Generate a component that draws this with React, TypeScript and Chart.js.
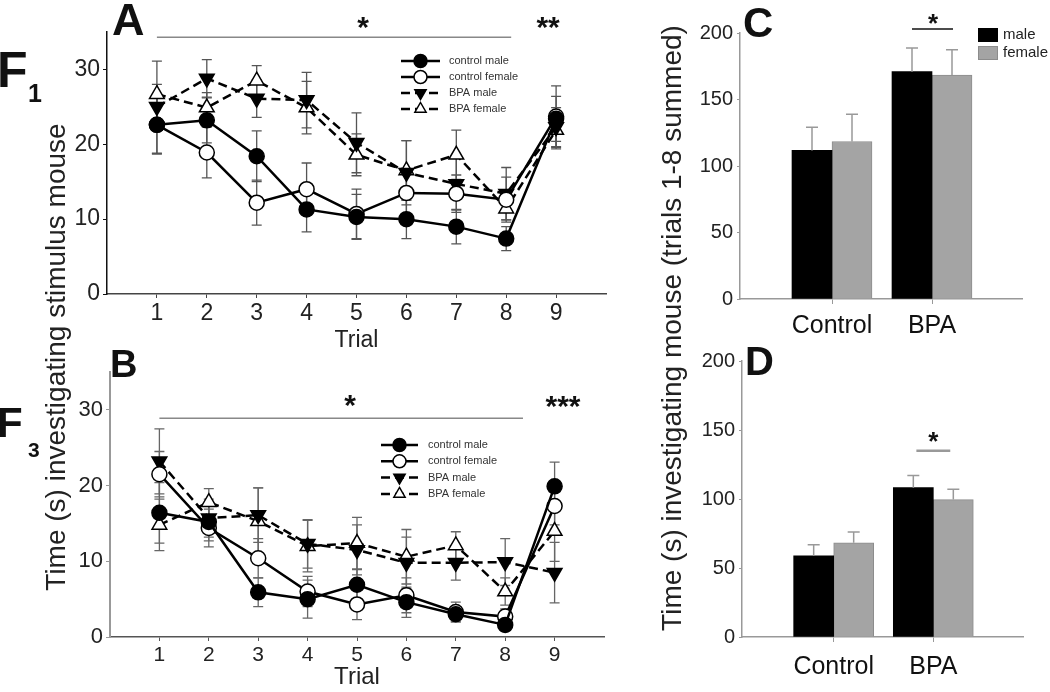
import React, { useEffect, useRef } from 'react';
import { Chart, registerables } from 'chart.js';

Chart.register(...registerables);

const FONT = '"Liberation Sans", Arial, sans-serif';

// ---------------- data ----------------
const trials = [1, 2, 3, 4, 5, 6, 7, 8, 9];
const seriesNames = ['control male', 'control female', 'BPA male', 'BPA female'];
const lineYTicks = [0, 10, 20, 30];

// Panel A (F1)
const f1ControlMale = [22.6, 23.2, 18.4, 11.3, 10.3, 10.0, 9.0, 7.4, 23.4];
const f1ControlMaleErr = [3.8, 3.0, 3.4, 3.0, 3.0, 2.6, 2.3, 1.6, 3.0];
const f1ControlFemale = [22.6, 18.9, 12.2, 14.0, 10.7, 13.5, 13.4, 12.6, 23.7];
const f1ControlFemaleErr = [3.9, 3.4, 3.0, 3.5, 3.3, 3.0, 2.5, 3.0, 4.1];
const f1BpaMale = [25.0, 28.8, 26.1, 25.9, 20.2, 16.2, 14.7, 13.4, 22.3];
const f1BpaMaleErr = [3.0, 2.5, 2.5, 3.7, 4.0, 4.3, 3.5, 3.5, 2.6];
const f1BpaFemale = [26.7, 24.9, 28.5, 24.9, 18.6, 16.5, 18.6, 11.4, 21.9];
const f1BpaFemaleErr = [4.4, 2.0, 2.0, 3.5, 2.8, 4.0, 3.3, 1.5, 2.5];

// Panel B (F3)
const f3ControlMale = [16.4, 15.2, 5.9, 5.0, 6.9, 4.6, 3.0, 1.6, 19.9];
const f3ControlMaleErr = [4.0, 2.5, 1.9, 2.5, 2.0, 2.0, 1.0, 0.8, 3.2];
const f3ControlFemale = [21.5, 14.4, 10.4, 6.0, 4.3, 5.5, 3.3, 2.7, 17.3];
const f3ControlFemaleErr = [3.0, 2.5, 2.6, 2.0, 2.0, 2.3, 1.3, 1.0, 2.5];
const f3BpaMale = [23.2, 15.7, 16.1, 12.3, 11.5, 9.8, 9.8, 9.9, 8.5];
const f3BpaMaleErr = [4.3, 2.5, 3.6, 3.2, 3.3, 3.4, 2.3, 3.1, 4.0];
const f3BpaFemale = [14.8, 17.8, 15.3, 12.0, 12.4, 10.6, 12.1, 6.0, 14.0];
const f3BpaFemaleErr = [3.4, 1.8, 4.4, 3.4, 3.4, 3.6, 1.8, 1.8, 4.0];

// Panels C and D (trials 1-8 summed)
const groups = ['Control', 'BPA'];
const groupPos = [1, 2];
const sexes = ['male', 'female'];
const barYTicks = [0, 50, 100, 150, 200];
const cMale = [111.7, 170.9];
const cMaleErr = [17.5, 17.8];
const cFemale = [118.4, 168.4];
const cFemaleErr = [20.6, 19.1];
const dMale = [58.8, 108.2];
const dMaleErr = [8.0, 8.8];
const dFemale = [68.3, 99.6];
const dFemaleErr = [7.7, 7.4];

// ---------------- styles ----------------
const seriesStyles = [
  { pointStyle: 'circle', radius: 7.5, fill: '#000', dash: [], rot: 0 },
  { pointStyle: 'circle', radius: 7.5, fill: '#fff', dash: [], rot: 0 },
  { pointStyle: 'triangle', radius: 8.5, fill: '#000', dash: [9, 5], rot: 180 },
  { pointStyle: 'triangle', radius: 8.5, fill: '#fff', dash: [9, 5], rot: 0 },
];

function drawMarker(ctx: CanvasRenderingContext2D, style: string, x: number, y: number, r: number, rot: number, fill: string, stroke: string, lw: number) {
  ctx.save();
  ctx.translate(x, y);
  ctx.rotate((rot * Math.PI) / 180);
  ctx.beginPath();
  if (style === 'circle') {
    ctx.arc(0, 0, r, 0, Math.PI * 2);
  } else {
    ctx.moveTo(0, -r);
    ctx.lineTo(r * 0.866, r * 0.5);
    ctx.lineTo(-r * 0.866, r * 0.5);
    ctx.closePath();
  }
  ctx.fillStyle = fill;
  ctx.fill();
  ctx.lineWidth = lw;
  ctx.strokeStyle = stroke;
  ctx.stroke();
  ctx.restore();
}

function makeErrorPlugin(color: string, width: number, cap: number, upOnly: boolean) {
  const draw = (chart: any) => {
    const ctx = chart.ctx;
    const ys = chart.scales.y;
    ctx.save();
    ctx.strokeStyle = color;
    ctx.lineWidth = width;
    chart.data.datasets.forEach((ds: any, i: number) => {
      const errs = ds.errors;
      if (!errs) return;
      const meta = chart.getDatasetMeta(i);
      meta.data.forEach((el: any, j: number) => {
        const raw = ds.data[j];
        const v = typeof raw === 'number' ? raw : raw.y;
        const e = errs[j];
        const x = el.x;
        const top = ys.getPixelForValue(v + e);
        const bot = upOnly ? el.y : ys.getPixelForValue(v - e);
        ctx.beginPath();
        ctx.moveTo(x, top);
        ctx.lineTo(x, bot);
        ctx.moveTo(x - cap, top);
        ctx.lineTo(x + cap, top);
        if (!upOnly) {
          ctx.moveTo(x - cap, bot);
          ctx.lineTo(x + cap, bot);
        }
        ctx.stroke();
      });
    });
    ctx.restore();
  };
  return upOnly
    ? { id: 'errorBars', afterDatasetsDraw: draw }
    : { id: 'errorBars', beforeDatasetsDraw: draw };
}

function makeSeriesLegend(x: number, y: number, dy: number, len: number, gap: number, r: number) {
  return {
    id: 'seriesLegend',
    afterDraw(chart: any) {
      const ctx = chart.ctx;
      chart.data.datasets.forEach((ds: any, i: number) => {
        const yy = y + i * dy;
        ctx.save();
        ctx.strokeStyle = ds.borderColor;
        ctx.lineWidth = ds.borderWidth;
        ctx.setLineDash(ds.borderDash || []);
        ctx.beginPath();
        ctx.moveTo(x, yy);
        ctx.lineTo(x + len, yy);
        ctx.stroke();
        ctx.setLineDash([]);
        drawMarker(ctx, ds.pointStyle, x + len / 2, yy, r, ds.pointRotation || 0, ds.pointBackgroundColor, ds.pointBorderColor, 1.5);
        ctx.fillStyle = '#333';
        ctx.font = `11px ${FONT}`;
        ctx.textBaseline = 'middle';
        ctx.textAlign = 'left';
        ctx.fillText(ds.label, x + len + gap, yy);
        ctx.restore();
      });
    },
  };
}

function makeBoxLegend(x: number, y: number, w: number, h: number, dy: number, gap: number) {
  return {
    id: 'boxLegend',
    afterDraw(chart: any) {
      const ctx = chart.ctx;
      chart.data.datasets.forEach((ds: any, i: number) => {
        const yy = y + i * dy;
        ctx.save();
        ctx.fillStyle = ds.backgroundColor;
        ctx.fillRect(x, yy, w, h);
        ctx.strokeStyle = ds.borderColor;
        ctx.lineWidth = 1;
        ctx.strokeRect(x + 0.5, yy + 0.5, w - 1, h - 1);
        ctx.fillStyle = '#222';
        ctx.font = `15px ${FONT}`;
        ctx.textBaseline = 'middle';
        ctx.textAlign = 'left';
        ctx.fillText(ds.label, x + w + gap, yy + h / 2);
        ctx.restore();
      });
    },
  };
}

type SigLine = { x1: number; x2: number; y: number; color: string; width: number };
type SigMark = { x: number; y: number; text: string; size: number };

function makeSigPlugin(lines: SigLine[], marks: SigMark[]) {
  return {
    id: 'sig',
    afterDraw(chart: any) {
      const { ctx } = chart;
      const xs = chart.scales.x;
      const ys = chart.scales.y;
      ctx.save();
      lines.forEach((l) => {
        ctx.strokeStyle = l.color;
        ctx.lineWidth = l.width;
        ctx.beginPath();
        ctx.moveTo(xs.getPixelForValue(l.x1), ys.getPixelForValue(l.y));
        ctx.lineTo(xs.getPixelForValue(l.x2), ys.getPixelForValue(l.y));
        ctx.stroke();
      });
      marks.forEach((m) => {
        ctx.fillStyle = '#111';
        ctx.font = `bold ${m.size}px ${FONT}`;
        ctx.textAlign = 'center';
        ctx.textBaseline = 'alphabetic';
        ctx.fillText(m.text, xs.getPixelForValue(m.x), ys.getPixelForValue(m.y) + m.size * 0.57);
      });
      ctx.restore();
    },
  };
}

function lineConfig(p: any) {
  const datasets = p.series.map((vals: number[], i: number) => {
    const st = seriesStyles[i];
    return {
      label: seriesNames[i],
      data: trials.map((t, j) => ({ x: t, y: vals[j] })),
      errors: p.errs[i],
      borderColor: '#000',
      borderWidth: 2.5,
      borderDash: st.dash,
      pointStyle: st.pointStyle,
      pointRadius: st.radius,
      pointRotation: st.rot,
      pointBackgroundColor: st.fill,
      pointBorderColor: '#000',
      pointBorderWidth: 1.5,
      tension: 0,
      fill: false,
    };
  });
  return {
    type: 'line',
    data: { datasets },
    options: {
      animation: false,
      responsive: false,
      maintainAspectRatio: false,
      devicePixelRatio: 1,
      events: [],
      layout: { padding: { left: 0, top: p.top, right: p.right, bottom: 0 } },
      plugins: { legend: { display: false }, tooltip: { enabled: false } },
      scales: {
        x: {
          type: 'linear',
          min: 0,
          max: 10,
          offset: false,
          afterBuildTicks: (s: any) => {
            s.ticks = trials.map((v) => ({ value: v }));
          },
          afterFit: (s: any) => {
            s.height = p.xHeight;
          },
          ticks: { font: { family: FONT, size: p.xTickSize }, color: '#222', padding: 2, maxRotation: 0, autoSkip: false },
          grid: { drawOnChartArea: false, drawTicks: true, tickLength: 4, color: p.xAxisColor },
          border: { display: true, color: p.xAxisColor, width: 1.5 },
          title: { display: true, text: 'Trial', font: { family: FONT, size: p.titleSize }, color: '#222', padding: { top: 0, bottom: 0 } },
        },
        y: {
          min: 0,
          max: 35,
          afterBuildTicks: (s: any) => {
            s.ticks = lineYTicks.map((v) => ({ value: v }));
          },
          afterFit: (s: any) => {
            s.width = p.yWidth;
          },
          ticks: { font: { family: FONT, size: p.yTickSize }, color: '#222', padding: 3 },
          grid: { drawOnChartArea: false, drawTicks: true, tickLength: 4, color: p.yAxisColor },
          border: { display: true, color: p.yAxisColor, width: p.yAxisWidth },
        },
      },
    },
    plugins: [
      makeErrorPlugin(p.errColor, 1.3, 5, false),
      makeSeriesLegend(p.legend.x, p.legend.y, p.legend.dy, p.legend.len, p.legend.gap, 6.5),
      makeSigPlugin(p.sigLines, p.sigMarks),
    ],
  };
}

function barConfig(p: any) {
  const datasets = [
    {
      label: sexes[0],
      data: groupPos.map((x, i) => ({ x, y: p.male[i] })),
      errors: p.maleErr,
      backgroundColor: '#000',
      borderColor: '#000',
      borderWidth: 0,
      barThickness: 40,
    },
    {
      label: sexes[1],
      data: groupPos.map((x, i) => ({ x, y: p.female[i] })),
      errors: p.femaleErr,
      backgroundColor: '#a4a4a4',
      borderColor: '#8c8c8c',
      borderWidth: 1,
      barThickness: 40,
    },
  ];
  const plugins: any[] = [makeErrorPlugin('#999', 1.5, 6, true), makeSigPlugin(p.sigLines, p.sigMarks)];
  if (p.legend) plugins.push(makeBoxLegend(p.legend.x, p.legend.y, 20, 14, 18, 5));
  return {
    type: 'bar',
    data: { datasets },
    options: {
      animation: false,
      responsive: false,
      maintainAspectRatio: false,
      devicePixelRatio: 1,
      events: [],
      layout: { padding: { left: 0, top: p.top, right: p.right, bottom: 0 } },
      plugins: { legend: { display: false }, tooltip: { enabled: false } },
      scales: {
        x: {
          type: 'linear',
          min: 0.08,
          max: 2.9,
          offset: false,
          afterBuildTicks: (s: any) => {
            s.ticks = groupPos.map((v) => ({ value: v }));
          },
          afterFit: (s: any) => {
            s.height = p.xHeight;
          },
          ticks: {
            font: { family: FONT, size: 25 },
            color: '#111',
            padding: p.xPad,
            maxRotation: 0,
            autoSkip: false,
            callback: (v: number) => {
              const k = groupPos.indexOf(v);
              return k >= 0 ? groups[k] : '';
            },
          },
          grid: { drawOnChartArea: false, drawTicks: true, tickLength: 5, color: '#999', offset: false },
          border: { display: true, color: '#999', width: 1.5 },
        },
        y: {
          min: 0,
          max: 200,
          afterBuildTicks: (s: any) => {
            s.ticks = barYTicks.map((v) => ({ value: v }));
          },
          afterFit: (s: any) => {
            s.width = p.yWidth;
          },
          ticks: { font: { family: FONT, size: 20 }, color: '#222', padding: 4 },
          grid: { drawOnChartArea: false, drawTicks: true, tickLength: 3, color: '#999' },
          border: { display: true, color: '#999', width: 1.5 },
        },
      },
    },
    plugins,
  };
}

function ChartBox({ left, top, width, height, build }: any) {
  const ref = useRef<HTMLCanvasElement>(null);
  useEffect(() => {
    const chart = new Chart(ref.current as HTMLCanvasElement, build());
    return () => chart.destroy();
  }, []);
  return (
    <canvas
      ref={ref}
      width={width}
      height={height}
      style={{ position: 'absolute', left, top, width, height }}
    />
  );
}

const buildA = () =>
  lineConfig({
    series: [f1ControlMale, f1ControlFemale, f1BpaMale, f1BpaFemale],
    errs: [f1ControlMaleErr, f1ControlFemaleErr, f1BpaMaleErr, f1BpaFemaleErr],
    top: 32,
    right: 14,
    xHeight: 60,
    yWidth: 107,
    xTickSize: 23,
    yTickSize: 23,
    titleSize: 23,
    xAxisColor: '#444',
    yAxisColor: '#111',
    yAxisWidth: 1.5,
    errColor: '#555',
    legend: { x: 401, y: 61, dy: 16, len: 39, gap: 9 },
    sigLines: [{ x1: 1, x2: 8.1, y: 34.3, color: '#888', width: 1.5 }],
    sigMarks: [
      { x: 5.13, y: 36.6, text: '*', size: 30 },
      { x: 8.84, y: 36.6, text: '**', size: 30 },
    ],
  });

const buildB = () =>
  lineConfig({
    series: [f3ControlMale, f3ControlFemale, f3BpaMale, f3BpaFemale],
    errs: [f3ControlMaleErr, f3ControlFemaleErr, f3BpaMaleErr, f3BpaFemaleErr],
    top: 27,
    right: 16,
    xHeight: 55,
    yWidth: 110,
    xTickSize: 21,
    yTickSize: 22,
    titleSize: 24,
    xAxisColor: '#555',
    yAxisColor: '#999',
    yAxisWidth: 2,
    errColor: '#666',
    legend: { x: 381, y: 100, dy: 16.3, len: 37, gap: 10 },
    sigLines: [{ x1: 1, x2: 8.36, y: 28.9, color: '#888', width: 1.5 }],
    sigMarks: [
      { x: 4.86, y: 31.6, text: '*', size: 30 },
      { x: 9.17, y: 31.5, text: '***', size: 30 },
    ],
  });

const buildC = () =>
  barConfig({
    male: cMale,
    maleErr: cMaleErr,
    female: cFemale,
    femaleErr: cFemaleErr,
    top: 33,
    right: 28,
    xHeight: 46,
    yWidth: 100,
    xPad: 7,
    legend: { x: 338, y: 28 },
    sigLines: [{ x1: 1.8, x2: 2.21, y: 203, color: '#111', width: 1.5 }],
    sigMarks: [{ x: 2.01, y: 212, text: '*', size: 26 }],
  });

const buildD = () =>
  barConfig({
    male: dMale,
    maleErr: dMaleErr,
    female: dFemale,
    femaleErr: dFemaleErr,
    top: 13,
    right: 27,
    xHeight: 55,
    yWidth: 102,
    xPad: 10,
    legend: null,
    sigLines: [{ x1: 1.83, x2: 2.17, y: 135, color: '#999', width: 2.5 }],
    sigMarks: [{ x: 2.0, y: 146, text: '*', size: 26 }],
  });

export default function App() {
  const txt = { fontFamily: FONT, fill: '#111' } as any;
  return (
    <div style={{ position: 'absolute', left: 0, top: 0, width: 1050, height: 692, background: '#fff', overflow: 'hidden' }}>
      <ChartBox left={0} top={0} width={620} height={354} build={buildA} />
      <ChartBox left={0} top={345} width={620} height={347} build={buildB} />
      <ChartBox left={640} top={0} width={410} height={345} build={buildC} />
      <ChartBox left={640} top={345} width={410} height={347} build={buildD} />
      <svg width={1050} height={692} style={{ position: 'absolute', left: 0, top: 0, pointerEvents: 'none' }}>
        <text x={112} y={35} fontSize={45} fontWeight="bold" {...txt}>A</text>
        <text x={110} y={377} fontSize={38} fontWeight="bold" {...txt}>B</text>
        <text x={743} y={37} fontSize={42} fontWeight="bold" {...txt}>C</text>
        <text x={745} y={375} fontSize={40} fontWeight="bold" {...txt}>D</text>
        <text x={-3} y={87} fontSize={50} fontWeight="bold" {...txt}>F</text>
        <text x={28} y={102} fontSize={25} fontWeight="bold" {...txt}>1</text>
        <text x={-3} y={437} fontSize={42} fontWeight="bold" {...txt}>F</text>
        <text x={28} y={457} fontSize={21} fontWeight="bold" {...txt}>3</text>
        <text transform="translate(65,357) rotate(-90)" textAnchor="middle" fontSize={28} {...txt} fill="#222">
          Time (s) investigating stimulus mouse
        </text>
        <text transform="translate(681,328) rotate(-90)" textAnchor="middle" fontSize={28} {...txt} fill="#222">
          Time (s) investigating mouse (trials 1-8 summed)
        </text>
      </svg>
    </div>
  );
}
